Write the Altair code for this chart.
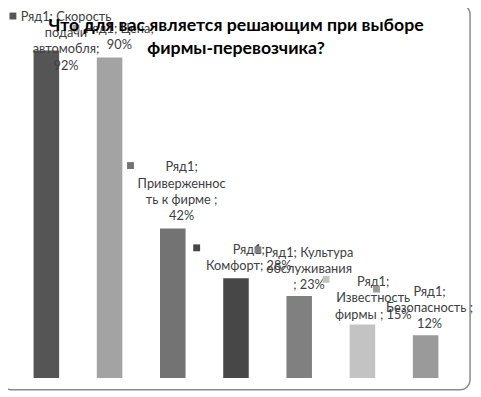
import altair as alt
import pandas as pd

categories = ["Скорость подачи автомобля", "Цена", "Приверженность к фирме", "Комфорт",
              "Культура обслуживания", "Известность фирмы", "Безопасность"]
values = [92, 90, 42, 28, 23, 15, 12]
labels = [
    "Ряд1; Скорость\nподачи\nавтомобля;\n92%",
    "Ряд1; Цена;\n90%",
    "Ряд1;\nПриверженнос\nть к фирме ;\n42%",
    "Ряд1;\nКомфорт; 28%",
    "Ряд1; Культура\nобслуживания\n; 23%",
    "Ряд1;\nИзвестность\nфирмы ; 15%",
    "Ряд1;\nБезопасность ;\n12%",
]
title_lines = ["Что для вас является решающим при выборе", "фирмы-перевозчика?"]
colors = ["#555555", "#a3a3a3", "#737373", "#474747", "#808080", "#c3c3c3", "#9a9a9a"]

# label / legend-key offsets (style, in pixels, relative to bar top centre)
label_dx = [20, 10, 9, 13, 10, 11, 4]
label_dy = [-30, -25, -58, -25, -40, -39, -40]
marker_dx = [-34, -34, -43, -40, -42, -37, -50]
marker_dy = [-35, -30, -64, -31, -47, -46, -47]

df = pd.DataFrame({"cat": categories, "value": values, "label": labels})

xenc = alt.X("cat:N", sort=categories, axis=None,
             scale=alt.Scale(paddingInner=0.596, paddingOuter=0.476, align=0.425))
yenc = alt.Y("value:Q", axis=None, scale=alt.Scale(domain=[0, 103], range=[373, 0]))

base = alt.Chart(df)

bars = base.mark_bar().encode(
    x=xenc, y=yenc,
    color=alt.Color("cat:N", scale=alt.Scale(domain=categories, range=colors), legend=None),
)

layers = [bars]
for i, c in enumerate(categories):
    sub = base.transform_filter(alt.datum.cat == c)
    layers.append(
        sub.mark_square(size=49, color=colors[i], opacity=1, filled=True,
                        xOffset=marker_dx[i], yOffset=marker_dy[i])
        .encode(x=xenc, y=yenc)
    )
    layers.append(
        sub.mark_text(font="Lato", fontSize=13, color="#404040", align="center",
                      baseline="alphabetic", lineBreak="\n", lineHeight=16.5,
                      dx=label_dx[i], dy=label_dy[i])
        .encode(x=xenc, y=yenc, text="label:N")
    )

frame = alt.Chart(alt.Data(values=[{}])).mark_rect(
    fillOpacity=0, stroke="#8a8a8a", strokeWidth=1.5, cornerRadius=10
).encode(x=alt.value(-7), x2=alt.value(470), y=alt.value(-7), y2=alt.value(385))

title = alt.Chart(alt.Data(values=[{}])).mark_text(
    font="Lato", fontSize=18, fontWeight="bold", color="black", align="center",
    baseline="alphabetic", lineHeight=23,
).encode(x=alt.value(232), y=alt.value(20), text=alt.value(title_lines))

chart = alt.layer(frame, *layers, title).properties(
    width=473, height=389, autosize="none", padding=0,
).configure_view(stroke=None)

chart.save("out.html", embed_options={"renderer": "svg", "actions": False})
